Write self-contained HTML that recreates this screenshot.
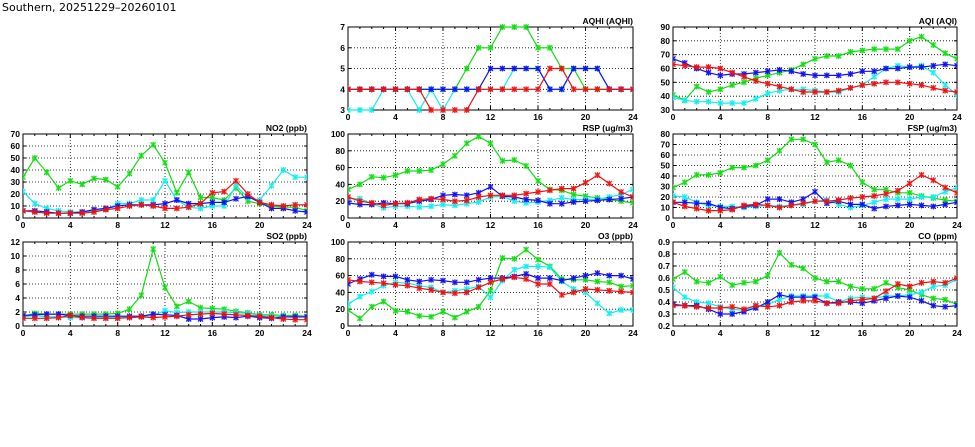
<!DOCTYPE html>
<html><head><meta charset="utf-8"><style>
html,body{margin:0;padding:0;background:#fff;}
svg{display:block;}
text{font-family:"Liberation Sans",sans-serif;font-weight:bold;font-size:8.5px;fill:#000;}
</style></head><body>
<svg id="s" width="975" height="447" xmlns="http://www.w3.org/2000/svg">
<text x="2" y="11" style="font-size:11px;font-weight:normal;font-family:'DejaVu Sans',sans-serif">Southern, 20251229–20260101</text>
</svg>
<script>
const C={g:"#11dd11",c:"#11eeee",b:"#1111ee",r:"#ee1111"};
const P=[
{t:"AQHI (AQHI)",x:348,y:27,w:285,h:83,min:3,max:7,st:1,d:{
g:[4,4,4,4,4,4,4,4,4,4,5,6,6,7,7,7,6,6,5,5,4,4,4,4,4],
c:[3,3,3,4,4,4,3,4,3,4,4,4,4,4,5,5,5,4,4,5,5,5,4,4,4],
b:[4,4,4,4,4,4,4,4,4,4,4,4,5,5,5,5,5,4,4,5,5,5,4,4,4],
r:[4,4,4,4,4,4,4,3,3,3,3,4,4,4,4,4,4,5,5,4,4,4,4,4,4]}},
{t:"AQI (AQI)",x:673,y:27,w:284,h:83,min:30,max:90,st:10,d:{
g:[41,37,47,43,45,48,50,53,55,57,59,63,67,69,69,72,73,74,74,74,80,83,77,71,67],
c:[39,37,36,36,35,35,35,38,42,44,45,45,44,43,43,46,48,54,60,62,61,62,57,48,41],
b:[67,64,60,57,55,56,56,57,58,59,58,56,55,55,55,56,58,58,60,60,61,61,62,63,62],
r:[63,62,61,61,60,57,54,51,49,47,45,43,43,43,44,46,48,49,50,50,49,48,46,44,43]}},
{t:"NO2 (ppb)",x:23,y:134,w:284,h:84,min:0,max:70,st:10,d:{
g:[34,50,38,25,31,28,33,32,26,37,52,61,46,21,38,17,17,15,25,14,12,10,9,9,6],
c:[22,12,8,6,5,5,6,7,12,12,15,15,31,15,9,8,10,10,27,17,15,27,40,34,34],
b:[6,6,5,4,4,5,7,8,10,11,11,11,12,15,12,12,13,13,16,18,13,8,8,6,5],
r:[6,5,4,4,4,4,5,7,8,10,11,10,8,8,9,12,21,22,31,20,13,11,10,11,11]}},
{t:"RSP (ug/m3)",x:348,y:134,w:285,h:84,min:0,max:100,st:20,d:{
g:[34,40,49,48,51,56,56,57,64,74,89,97,89,68,69,62,44,34,33,28,26,24,22,20,18],
c:[23,23,17,12,14,14,13,14,16,15,17,19,25,26,20,18,19,21,24,22,22,22,25,28,34],
b:[18,16,16,18,17,17,20,22,27,28,27,30,37,26,25,22,21,17,17,19,20,21,22,23,25],
r:[25,20,18,15,17,18,22,23,22,20,21,25,27,27,27,29,31,33,35,35,42,51,41,31,25]}},
{t:"FSP (ug/m3)",x:673,y:134,w:284,h:84,min:0,max:80,st:10,d:{
g:[29,34,41,41,43,48,48,50,55,64,75,75,70,53,55,50,34,27,27,24,24,21,19,17,16],
c:[21,20,15,12,11,11,10,11,12,11,12,13,16,17,13,10,12,15,18,18,18,20,20,25,29],
b:[15,15,14,14,10,9,11,12,18,18,15,18,25,14,16,13,13,9,11,12,13,12,11,13,15],
r:[15,11,9,7,7,8,12,13,12,10,12,14,16,16,17,19,20,21,23,26,33,41,36,29,24]}},
{t:"SO2 (ppb)",x:23,y:242,w:284,h:84,min:0,max:12,st:2,d:{
g:[1.4,1.8,1.7,1.7,1.7,1.7,1.7,1.7,1.8,2.4,4.4,11,5.5,2.8,3.5,2.6,2.5,2.4,2.1,1.9,1.6,1.6,1.5,1.5,1.4],
c:[1.3,1.5,1.3,1.3,1.2,1.2,1.2,1.2,1.3,1.3,1.4,1.5,2.2,1.9,2,2,2,2,1.9,1.8,1.5,1.4,1.4,1.3,1.3],
b:[1.5,1.6,1.7,1.7,1.5,1.4,1.4,1.4,1.4,1.4,1.4,1.7,1.6,1.5,1,1,1.2,1.3,1.2,1.4,1.2,1.1,1.3,1.3,1.3],
r:[1.1,1.1,1.1,1.2,1.5,1.2,1.1,1.1,1.1,1.2,1.3,1.2,1.3,1.4,1.6,1.7,1.8,1.7,1.6,1.5,1.4,1.2,1,0.9,0.9]}},
{t:"O3 (ppb)",x:348,y:242,w:285,h:84,min:0,max:100,st:20,d:{
g:[19,9,23,29,18,17,12,11,17,10,17,23,42,81,80,91,79,71,56,55,55,53,52,47,48],
c:[26,35,41,48,52,51,48,46,40,42,44,47,34,54,67,71,71,70,53,44,40,27,15,19,19],
b:[50,56,61,59,59,55,53,55,54,52,52,55,57,57,59,62,57,57,54,57,60,63,60,60,56],
r:[55,53,52,51,49,48,45,43,40,39,40,46,52,56,58,56,50,50,37,40,44,43,42,41,40]}},
{t:"CO (ppm)",x:673,y:242,w:284,h:84,min:0.2,max:0.9,st:0.1,d:{
g:[.59,.65,.57,.56,.61,.54,.56,.57,.62,.81,.71,.68,.60,.57,.57,.53,.51,.51,.56,.52,.50,.46,.43,.42,.38],
c:[.52,.44,.40,.39,.36,.34,.33,.36,.38,.42,.45,.45,.45,.45,.40,.43,.44,.43,.45,.45,.46,.48,.53,.54,.59],
b:[.38,.37,.37,.34,.30,.30,.32,.35,.40,.46,.44,.44,.44,.39,.40,.40,.39,.41,.43,.45,.44,.41,.37,.36,.37],
r:[.37,.37,.36,.35,.35,.36,.34,.37,.36,.37,.40,.41,.41,.39,.39,.41,.42,.43,.49,.55,.53,.56,.57,.56,.60]}}
];
let o="";
for(const p of P){
 const X=i=>p.x+p.w*i/24, Y=v=>p.y+p.h*(1-(v-p.min)/(p.max-p.min));
 const n=Math.round((p.max-p.min)/p.st);
 for(let k=0;k<=n;k++){const v=p.min+k*p.st,y=Y(v).toFixed(1);
  if(k>0&&k<n)o+=`<line x1="${p.x}" x2="${p.x+p.w}" y1="${y}" y2="${y}" stroke="#000" stroke-width="0.8" stroke-dasharray="1,2"/>`;
  o+=`<line x1="${p.x}" x2="${p.x+3}" y1="${y}" y2="${y}" stroke="#000"/><line x1="${p.x+p.w-3}" x2="${p.x+p.w}" y1="${y}" y2="${y}" stroke="#000"/>`;
  const lab=p.st<1?v.toFixed(1):String(Math.round(v));
  o+=`<text x="${p.x-3}" y="${(+y+3).toFixed(1)}" text-anchor="end">${lab}</text>`;}
 for(let h=0;h<=24;h++){const x=X(h).toFixed(1);
  if(h%4==0){ if(h>0&&h<24)o+=`<line x1="${x}" x2="${x}" y1="${p.y}" y2="${p.y+p.h}" stroke="#000" stroke-width="0.8" stroke-dasharray="1,2"/>`;
   o+=`<text x="${x}" y="${p.y+p.h+10}" text-anchor="middle">${h}</text>`;
   o+=`<line x1="${x}" x2="${x}" y1="${p.y+p.h-4}" y2="${p.y+p.h}" stroke="#000"/><line x1="${x}" x2="${x}" y1="${p.y}" y2="${p.y+4}" stroke="#000"/>`;}
  else o+=`<line x1="${x}" x2="${x}" y1="${p.y+p.h-2}" y2="${p.y+p.h}" stroke="#000"/><line x1="${x}" x2="${x}" y1="${p.y}" y2="${p.y+2}" stroke="#000"/>`;}
 o+=`<rect x="${p.x}" y="${p.y}" width="${p.w}" height="${p.h}" fill="none" stroke="#000"/>`;
 o+=`<text x="${p.x+p.w}" y="${p.y-3}" text-anchor="end">${p.t}</text>`;
 o+=`<svg x="${p.x}" y="${p.y-3}" width="${p.w}" height="${p.h+6}" overflow="hidden"><g transform="translate(${-p.x},${-(p.y-3)})">`;
 for(const k of ["g","c","b","r"]){const d=p.d[k],col=C[k];
  o+=`<polyline fill="none" stroke="${col}" stroke-width="1.2" points="${d.map((v,i)=>X(i).toFixed(1)+","+Y(v).toFixed(1)).join(" ")}"/>`;
  d.forEach((v,i)=>{const x=X(i),y=Y(v);
   o+=`<rect x="${(x-2.5).toFixed(1)}" y="${(y-2.5).toFixed(1)}" width="5" height="5" fill="${col}" opacity="0.45"/>`;
   o+=`<path d="M${x-2.5},${y-2.5}L${x+2.5},${y+2.5}M${x-2.5},${y+2.5}L${x+2.5},${y-2.5}M${x},${y-3}L${x},${y+3}" stroke="${col}" stroke-width="1"/>`;});}
 o+=`</g></svg>`;
}
document.getElementById("s").insertAdjacentHTML("beforeend",o);
</script>
</body></html>
